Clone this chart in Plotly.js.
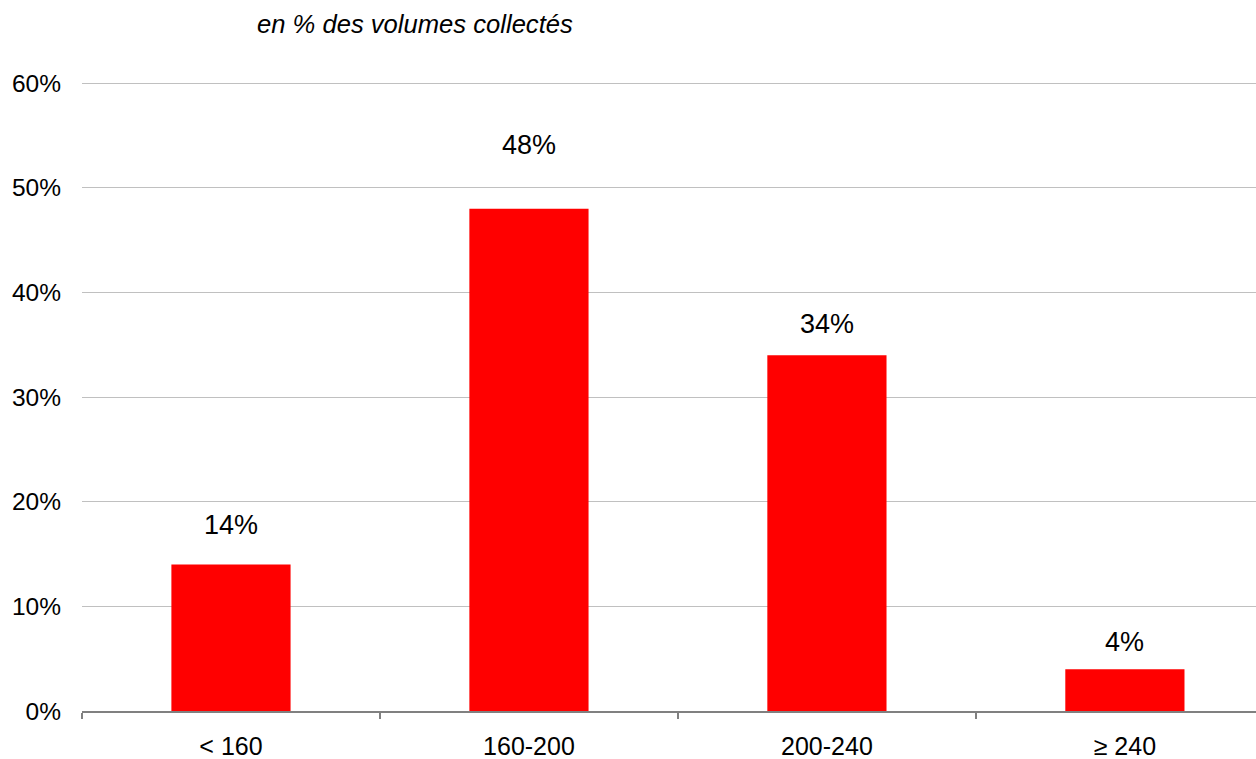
<!DOCTYPE html>
<html>
<head>
<meta charset="utf-8">
<script src="https://cdn.plot.ly/plotly-3.0.1.min.js"></script>
<style>
  html, body { margin: 0; padding: 0; background: #fff; overflow: hidden; }
  #chart { width: 1256px; height: 759px; }
</style>
</head>
<body>
<div id="chart"></div>
<script>
// Répartition par classe, en % des volumes collectés
const categories = ["< 160", "160-200", "200-240", "\u2265 240"];
const shares = [0.14, 0.48, 0.34, 0.04];
const shareLabels = ["14%", "48%", "34%", "4%"];
const yTicks = [0, 0.1, 0.2, 0.3, 0.4, 0.5, 0.6];
const yTickLabels = ["0%", "10%", "20%", "30%", "40%", "50%", "60%"];

// vertical lift (px) of each value label above its bar
const labelLift = [39, 64, 31, 27];

const font = "Liberation Sans, Arial, sans-serif";

const bars = {
  type: "bar",
  x: categories,
  y: shares,
  width: 0.4,
  marker: { color: "#ff0000", line: { width: 0 } },
  hoverinfo: "skip"
};

const valueNotes = categories.map((c, i) => ({
  x: c,
  y: shares[i],
  text: shareLabels[i],
  showarrow: false,
  yanchor: "middle",
  yshift: labelLift[i],
  font: { family: font, size: 27, color: "#000" }
}));

const layout = {
  width: 1256,
  height: 759,
  margin: { l: 82, r: 0, t: 82, b: 48 },
  paper_bgcolor: "#fff",
  plot_bgcolor: "#fff",
  showlegend: false,
  title: {
    text: "<i>en % des volumes collectés</i>",
    font: { family: font, size: 25.6, color: "#000" },
    x: 257 / 1256,
    xanchor: "left",
    xref: "container",
    y: 1 - 24 / 759,
    yanchor: "middle",
    yref: "container"
  },
  xaxis: {
    type: "category",
    range: [-0.5, 3.44],
    tickson: "boundaries",
    ticks: "outside",
    ticklen: 6,
    tickwidth: 1.5,
    tickcolor: "#808080",
    showline: true,
    linecolor: "#808080",
    linewidth: 1.5,
    showgrid: false,
    ticklabelstandoff: 12,
    tickfont: { family: font, size: 25, color: "#000" },
    fixedrange: true
  },
  yaxis: {
    range: [0, 0.601],
    tickvals: yTicks,
    ticktext: yTickLabels,
    showgrid: true,
    gridcolor: "#c0c0c0",
    gridwidth: 1,
    zeroline: false,
    showline: false,
    ticks: "",
    ticklabelstandoff: 20,
    tickfont: { family: font, size: 24.5, color: "#000" },
    fixedrange: true
  },
  annotations: valueNotes
};

Plotly.newPlot("chart", [bars], layout, { displayModeBar: false, staticPlot: true });
</script>
</body>
</html>
